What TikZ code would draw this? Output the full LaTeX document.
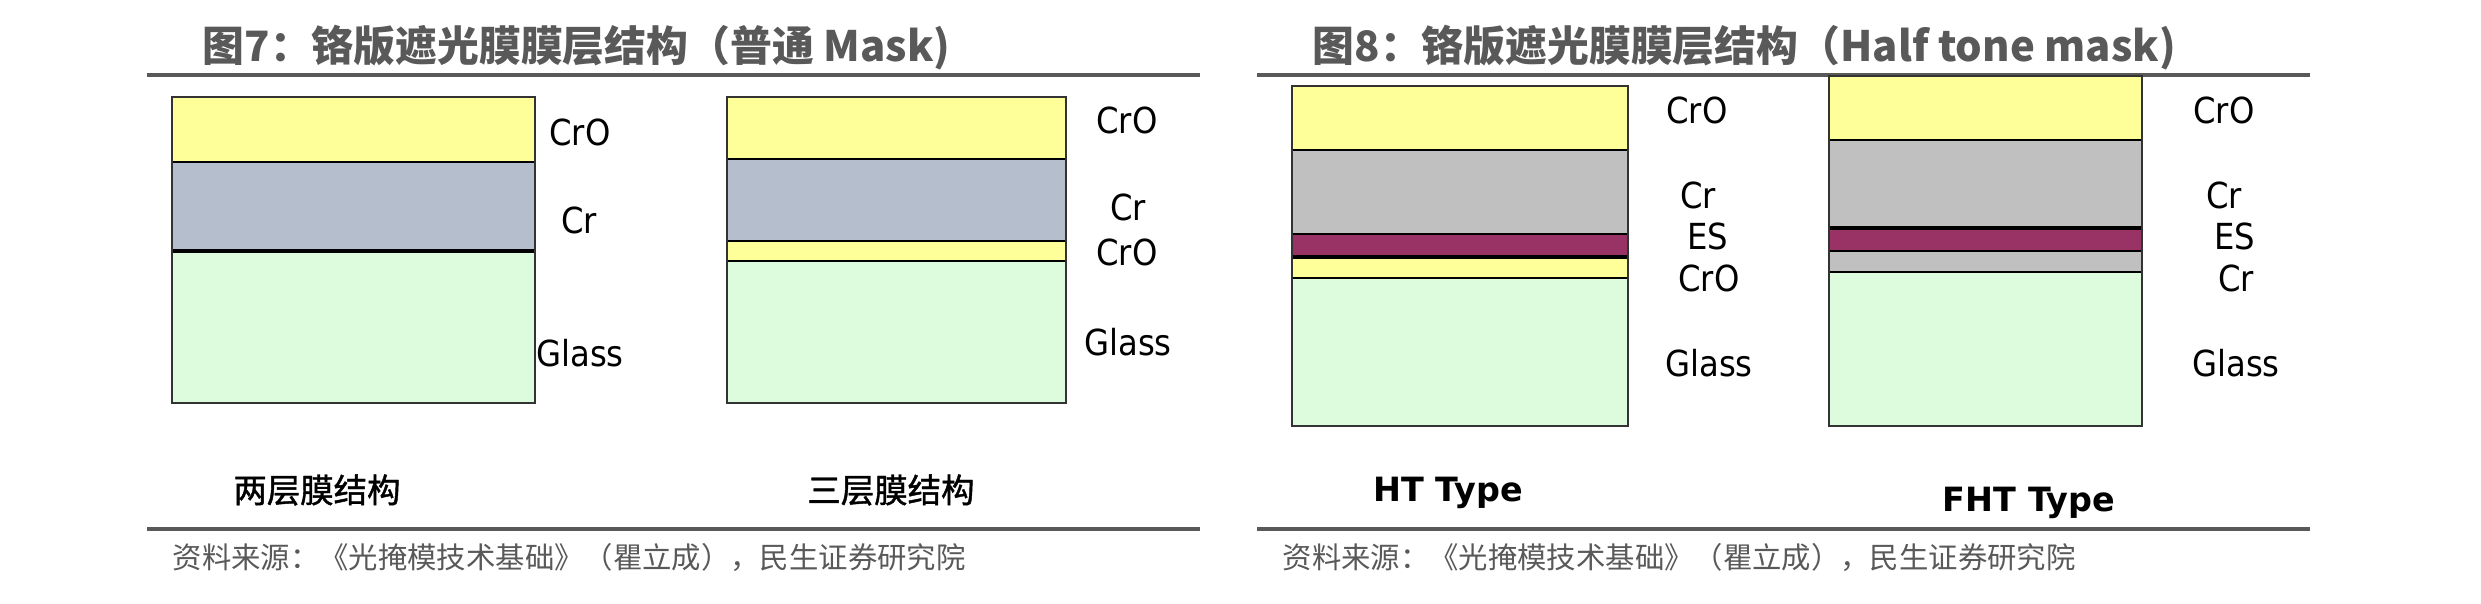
\documentclass[tikz,border=0pt]{standalone}
\usepackage{fontspec}
\newfontfamily\cjk{Noto Sans CJK SC}
\newfontfamily\cjkm[FakeBold=1.3]{Noto Sans CJK SC}
\newfontfamily\labf[FakeStretch=0.9]{DejaVu Sans}
\newfontfamily\labb{DejaVu Sans}
\definecolor{crO}{HTML}{FFFF99}
\definecolor{crA}{HTML}{B4BECD}
\definecolor{glass}{HTML}{DDFCDD}
\definecolor{crB}{HTML}{C0C0C0}
\definecolor{es}{HTML}{993366}
\definecolor{tgray}{HTML}{595959}
\definecolor{edge}{HTML}{333333}
\tikzset{
  ttl/.style={anchor=west, inner sep=0pt, text=tgray, font=\cjk\bfseries\fontsize{11.9pt}{14pt}\selectfont},
  rulel/.style={draw=tgray, line width=1.1pt},
  src/.style={anchor=west, inner sep=0pt, text=tgray, font=\cjk\fontsize{8.35pt}{10pt}\selectfont},
  lab/.style={inner sep=0pt, text depth=0pt, font=\labf\fontsize{10.2pt}{12pt}\selectfont},
  capcj/.style={inner sep=0pt, font=\cjkm\fontsize{9.5pt}{11pt}\selectfont},
  capbf/.style={inner sep=0pt, font=\labb\bfseries\fontsize{9.5pt}{11pt}\selectfont},
  sep/.style={draw=black, line width=0.6pt},
  outline/.style={draw=edge, line width=0.6pt},
}
\begin{document}
\begin{tikzpicture}[x=0.01cm, y=-0.01cm]
\useasboundingbox[fill=white] (0,0) rectangle (2481,604);

% titles and rules
\node[ttl] (t1) at (202,48) {图7：铬版遮光膜膜层结构（普通 Mask)};
\node[ttl] (t2) at (1312,48) {图8：铬版遮光膜膜层结构（Half tone mask)};
\draw[rulel] (147,75) -- (1200,75);
\draw[rulel] (1257,75) -- (2310,75);
\draw[rulel] (147,529) -- (1200,529);
\draw[rulel] (1257,529) -- (2310,529);
\node[src] (s1) at (172,558) {资料来源：《光掩模技术基础》（瞿立成），民生证券研究院};
\node[src] (s2) at (1282,558) {资料来源：《光掩模技术基础》（瞿立成），民生证券研究院};

% Stack A
\fill[crO] (172,97) rectangle (535,162);
\fill[crA] (172,162) rectangle (535,251);
\fill[glass] (172,251) rectangle (535,403);
\draw[sep] (172,162) -- (535,162);
\draw[sep, line width=0.9pt] (172,251) -- (535,251);
\draw[outline] (172,97) rectangle (535,403);
\node[lab] (a1) at (580,132) {CrO};
\node[lab] (a2) at (579,220) {Cr};
\node[lab] (a3) at (580,353) {Glass};

% Stack B
\fill[crO] (727,97) rectangle (1066,159);
\fill[crA] (727,159) rectangle (1066,241);
\fill[crO] (727,241) rectangle (1066,261);
\fill[glass] (727,261) rectangle (1066,403);
\draw[sep] (727,159) -- (1066,159);
\draw[sep] (727,241) -- (1066,241);
\draw[sep] (727,261) -- (1066,261);
\draw[outline] (727,97) rectangle (1066,403);
\node[lab] (b1) at (1127,120) {CrO};
\node[lab] (b2) at (1128,207) {Cr};
\node[lab] (b3) at (1127,252) {CrO};
\node[lab] (b4) at (1128,342) {Glass};

% Stack C
\fill[crO] (1292,86) rectangle (1628,150);
\fill[crB] (1292,150) rectangle (1628,234);
\fill[es] (1292,234) rectangle (1628,257);
\fill[crO] (1292,257) rectangle (1628,278);
\fill[glass] (1292,278) rectangle (1628,426);
\draw[sep] (1292,150) -- (1628,150);
\draw[sep] (1292,234) -- (1628,234);
\draw[sep, line width=0.9pt] (1292,257) -- (1628,257);
\draw[sep] (1292,278) -- (1628,278);
\draw[outline] (1292,86) rectangle (1628,426);
\node[lab] (c1) at (1697,110) {CrO};
\node[lab] (c2) at (1698,195) {Cr};
\node[lab] (c3) at (1708,236) {ES};
\node[lab] (c4) at (1709,278) {CrO};
\node[lab] (c5) at (1709,363) {Glass};

% Stack D
\fill[crO] (1829,76) rectangle (2142,140);
\fill[crB] (1829,140) rectangle (2142,228);
\fill[es] (1829,228) rectangle (2142,251);
\fill[crB] (1829,251) rectangle (2142,272);
\fill[glass] (1829,272) rectangle (2142,426);
\draw[sep] (1829,140) -- (2142,140);
\draw[sep, line width=0.9pt] (1829,228) -- (2142,228);
\draw[sep] (1829,251) -- (2142,251);
\draw[sep] (1829,272) -- (2142,272);
\draw[outline] (1829,76) rectangle (2142,426);
\node[lab] (d1) at (2224,110) {CrO};
\node[lab] (d2) at (2224,195) {Cr};
\node[lab] (d3) at (2235,236) {ES};
\node[lab] (d4) at (2236,278) {Cr};
\node[lab] (d5) at (2236,363) {Glass};

% captions
\node[capcj] (k1) at (317,490) {两层膜结构};
\node[capcj] (k2) at (891,490) {三层膜结构};
\node[capbf] (k3) at (1448,493) {HT Type};
\node[capbf] (k4) at (2029,503) {FHT Type};
\end{tikzpicture}
\end{document}
